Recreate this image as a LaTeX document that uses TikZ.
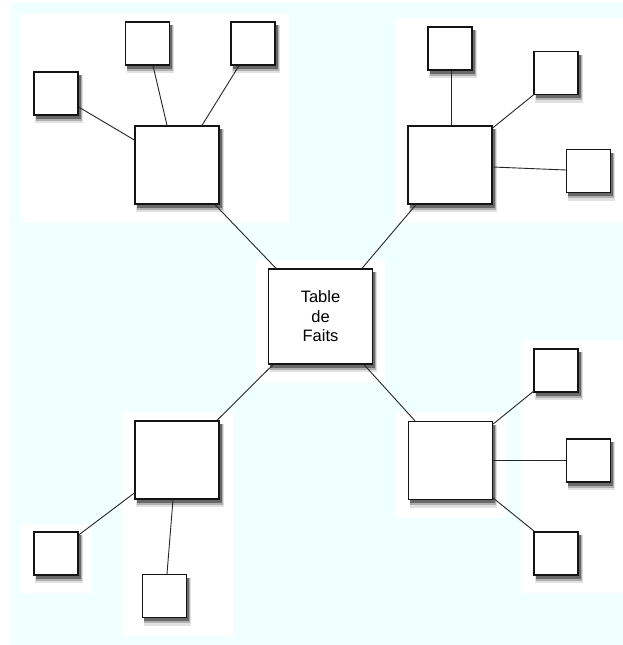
\documentclass[tikz,border=0pt]{standalone}
\usepackage{fontspec}
\setmainfont{Liberation Sans}
\definecolor{bgcyan}{RGB}{240,255,255}
\definecolor{boxline}{RGB}{20,20,20}
\definecolor{shadeA}{RGB}{225,225,225}
\definecolor{shadeB}{RGB}{175,175,175}
\definecolor{shadeC}{RGB}{105,105,105}
\tikzset{
  anybox/.style={draw=boxline, line width=1.3pt, fill=white, inner sep=0pt},
  bigbox/.style={anybox, minimum width=84pt, minimum height=78pt},
  smallbox/.style={anybox, minimum width=44pt, minimum height=43pt},
  factbox/.style={anybox, minimum width=104pt, minimum height=95pt, align=center,
    font=\fontsize{16.5}{19.5}\selectfont},
  link/.style={draw=black!85, line width=0.9pt},
  panel/.style={fill=white, draw=none},
  shadowA/.style={fill=shadeA, draw=none},
  shadowB/.style={fill=shadeB, draw=none},
  shadowC/.style={fill=shadeC, draw=none}
}
\begin{document}
\begin{tikzpicture}[x=1pt,y=-1pt]
\useasboundingbox (0,0) rectangle (623,645);
% background
\fill[bgcyan] (10,3) rectangle (623,645);
\fill[panel] (21,14) rectangle (289,223);
\fill[panel] (395,18) rectangle (623,223);
\fill[panel] (255,260) rectangle (385,383);
\fill[panel] (21,524) rectangle (92,593);
\fill[panel] (122,412) rectangle (233,636);
\fill[panel] (395,412) rectangle (506,518);
\fill[panel] (521,340) rectangle (623,593);
% shadows, drawn under the boxes (same centres and half sizes)
\foreach \cx/\cy/\hw/\hh in {320.5/316.5/52/47.5, 177/165/42/39, 56/93.5/22/21.5, 147.5/43.5/22/21.5, 253/43.5/22/21.5, 450/165/42/39, 450/48.5/22/21.5, 556/73/22/21.5, 588.5/171/22/21.5, 177/460/42/39, 56/553.5/22/21.5, 164.5/596/22/21.5, 450.5/460.5/42/39, 556/370.5/22/21.5, 588.5/460.5/22/21.5, 556/553.5/22/21.5}{
  \path[shadowA] ({\cx-\hw+1},{\cy-\hh+3}) rectangle ({\cx+\hw+4.5},{\cy+\hh+8});
  \path[shadowB] ({\cx-\hw+1.5},{\cy-\hh+3}) rectangle ({\cx+\hw+3.5},{\cy+\hh+5.5});
  \path[shadowC] ({\cx-\hw+1.5},{\cy-\hh+3}) rectangle ({\cx+\hw+2.5},{\cy+\hh+3.5});
}
% nodes
\node[factbox] (c) at (320.5,316.5) {Table\\de\\Faits};
\node[bigbox] (tl) at (177,165) {};
\node[smallbox] (tls1) at (56,93.5) {};
\node[smallbox] (tls2) at (147.5,43.5) {};
\node[smallbox] (tls3) at (253,43.5) {};
\node[bigbox] (tr) at (450,165) {};
\node[smallbox] (trs1) at (450,48.5) {};
\node[smallbox] (trs2) at (556,73) {};
\node[smallbox] (trs3) at (588.5,171) {};
\node[bigbox] (bl) at (177,460) {};
\node[smallbox] (bls1) at (56,553.5) {};
\node[smallbox] (bls2) at (164.5,596) {};
\node[bigbox] (br) at (450.5,460.5) {};
\node[smallbox] (brs1) at (556,370.5) {};
\node[smallbox] (brs2) at (588.5,460.5) {};
\node[smallbox] (brs3) at (556,553.5) {};
% connectors
\draw[link] ([shift={(38,0)}]tl.south) -- ([shift={(-44.5,0)}]c.north);
\draw[link] ([shift={(-34,0)}]tr.south) -- ([shift={(41.5,0)}]c.north);
\draw[link] ([shift={(40,0)}]bl.north) -- ([shift={(-47.5,0)}]c.south);
\draw[link] ([shift={(-35.5,0)}]br.north) -- ([shift={(43.5,0)}]c.south);
\draw[link] ([shift={(0,13.5)}]tls1.east) -- ([shift={(0,-25)}]tl.west);
\draw[link] ([shift={(5.5,0)}]tls2.south) -- ([shift={(-10,0)}]tl.north);
\draw[link] ([shift={(-14,0)}]tls3.south) -- ([shift={(25,0)}]tl.north);
\draw[link] ([shift={(1,0)}]tr.north) -- ([shift={(1,0)}]trs1.south);
\draw[link] ([shift={(0,-37)}]tr.east) -- ([shift={(1,-1)}]trs2.south west);
\draw[link] ([shift={(0,2)}]tr.east) -- ([shift={(0,-1)}]trs3.west);
\draw[link] ([shift={(0,33)}]bl.west) -- ([shift={(0,-18.5)}]bls1.east);
\draw[link] ([shift={(-4,0)}]bl.south) -- ([shift={(2.5,0)}]bls2.north);
\draw[link] ([shift={(0,-36.5)}]br.east) -- ([shift={(1,-2)}]brs1.south west);
\draw[link] (br.east) -- (brs2.west);
\draw[link] ([shift={(0,37.5)}]br.east) -- ([shift={(1,0)}]brs3.north west);
\end{tikzpicture}
\end{document}
